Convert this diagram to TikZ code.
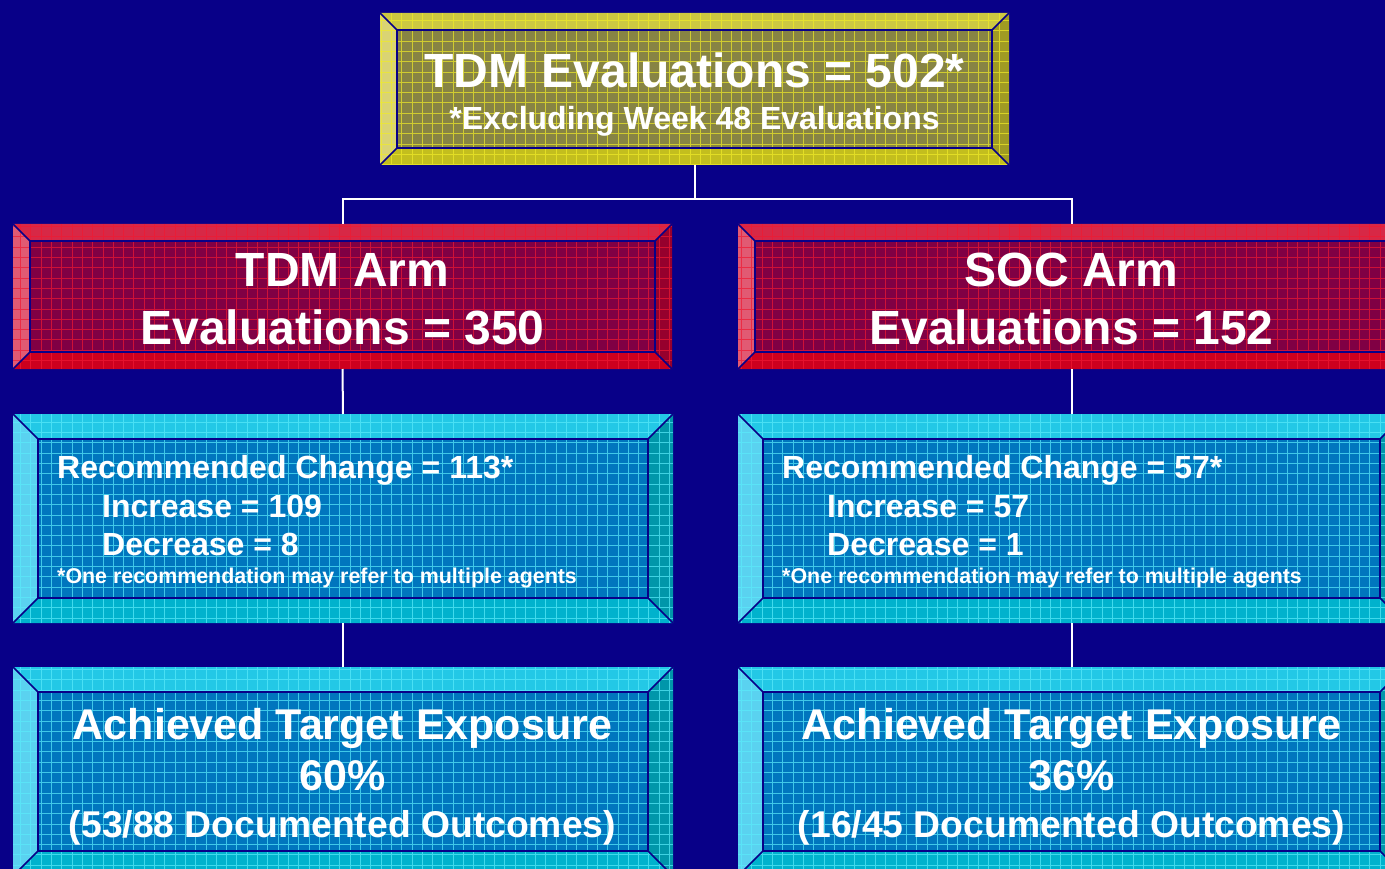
\documentclass[tikz,border=0pt]{standalone}
\usepackage{fontspec}
\setmainfont{Liberation Sans}
\usetikzlibrary{calc,positioning}

\definecolor{slidebg}{RGB}{8,0,136}
% yellow panel
\definecolor{yltop}{RGB}{205,200,65}
\definecolor{ylleft}{RGB}{218,212,115}
\definecolor{ylbottom}{RGB}{195,190,30}
\definecolor{ylright}{RGB}{160,155,35}
\definecolor{ylface}{RGB}{135,132,68}
\definecolor{ylgrid}{RGB}{240,235,40}
% red panels
\definecolor{rdtop}{RGB}{215,40,70}
\definecolor{rdleft}{RGB}{225,90,115}
\definecolor{rdbottom}{RGB}{205,0,30}
\definecolor{rdright}{RGB}{150,0,45}
\definecolor{rdface}{RGB}{128,0,68}
\definecolor{rdgrid}{RGB}{240,25,50}
% cyan panels
\definecolor{cytop}{RGB}{35,200,230}
\definecolor{cyleft}{RGB}{90,210,240}
\definecolor{cybottom}{RGB}{0,178,205}
\definecolor{cyright}{RGB}{0,150,170}
\definecolor{cyface}{RGB}{0,118,190}
\definecolor{cygrid}{RGB}{90,235,250}

% bevelled panel: name, x1, y1, x2, y2, bevel, colour set
\newcommand\bevelpanel[7]{%
	\pgfmathsetmacro\pix{#2+#6}\pgfmathsetmacro\piy{#3+#6}%
	\pgfmathsetmacro\pjx{#4-#6}\pgfmathsetmacro\pjy{#5-#6}%
	\node[panelnode,minimum width={(#4-#2)*1pt},minimum height={(#5-#3)*1pt}] (#1) at ({(#2+#4)/2},{(#3+#5)/2}) {};
	\begin{scope}
		\clip (#2,#3) rectangle (#4,#5);
		\fill[#7face] (\pix,\piy) rectangle (\pjx,\pjy);
		\fill[#7top] (#2,#3) -- (#4,#3) -- (\pjx,\piy) -- (\pix,\piy) -- cycle;
		\fill[#7right] (#4,#3) -- (#4,#5) -- (\pjx,\pjy) -- (\pjx,\piy) -- cycle;
		\fill[#7bottom] (#4,#5) -- (#2,#5) -- (\pix,\pjy) -- (\pjx,\pjy) -- cycle;
		\fill[#7left] (#2,#5) -- (#2,#3) -- (\pix,\piy) -- (\pix,\pjy) -- cycle;
		\draw[#7grid,gridline] (#2,#5) grid (#4,#3);
		\draw[edge] (\pix,\piy) rectangle (\pjx,\pjy)
			(#2,#3) -- (\pix,\piy) (#4,#3) -- (\pjx,\piy)
			(#4,#5) -- (\pjx,\pjy) (#2,#5) -- (\pix,\pjy);
	\end{scope}}

\begin{document}
\begin{tikzpicture}[
		x=1pt, y=-1pt,
		panelnode/.style={inner sep=0pt,outer sep=0pt},
		gridline/.style={step=10.3pt,line width=1pt,opacity=.7},
		edge/.style={draw=slidebg,line width=1.6pt},
		link/.style={draw=white,line width=2pt},
		txt/.style={text=white,inner sep=0pt,anchor=base},
		hugetxt/.style={txt,font=\fontsize{48}{56}\selectfont\bfseries},
		notetxt/.style={txt,font=\fontsize{32}{38}\selectfont\bfseries},
		listtxt/.style={txt,anchor=base west,font=\fontsize{32}{38}\selectfont\bfseries},
		smalltxt/.style={txt,anchor=base west,font=\fontsize{21.4}{25}\selectfont\bfseries},
		bigtxt/.style={txt,font=\fontsize{43}{50}\selectfont\bfseries},
		midtxt/.style={txt,font=\fontsize{37.3}{44}\selectfont\bfseries}
	]
	
	\fill[slidebg] (0,0) rectangle (1385,869);
	\clip (0,0) rectangle (1385,869);
	
	% panels
	\bevelpanel{total}{380}{13}{1009}{165}{17}{yl}
	\bevelpanel{tdm}{13}{224}{672}{369}{17}{rd}
	\bevelpanel{soc}{738}{224}{1405}{369}{17}{rd}
	\bevelpanel{tdmchg}{13}{414}{673}{623}{25}{cy}
	\bevelpanel{socchg}{738}{414}{1405}{623}{25}{cy}
	\bevelpanel{tdmexp}{13}{667}{673}{876}{25}{cy}
	\bevelpanel{socexp}{738}{667}{1405}{876}{25}{cy}
	
	% connectors
	\draw[link] (total.south) -- ++(0,34) -| (tdm.north);
	\draw[link] (total.south) -- ++(0,34) -| (soc.north);
	\draw[link] (tdm.south) -- (tdmchg.north);
	\draw[link] (soc.south) -- (socchg.north);
	\draw[link] (tdmchg.south) -- (tdmexp.north);
	\draw[link] (socchg.south) -- (socexp.north);
	
	% texts
	\node[hugetxt] (total-title) at (694.5,88) {TDM Evaluations = 502*};
	\node[notetxt] (total-note) at (694.5,130) {*Excluding Week 48 Evaluations};
	
	\node[hugetxt] (tdm-arm) at (342.5,287) {TDM Arm};
	\node[hugetxt] (tdm-evals) at (342.5,344) {Evaluations = 350};
	\node[hugetxt] (soc-arm) at (1071.5,287) {SOC Arm};
	\node[hugetxt] (soc-evals) at (1071.5,344) {Evaluations = 152};
	
	\node[listtxt] (tdm-rec) at (57,478) {Recommended Change = 113*};
	\node[listtxt] (tdm-inc) at (102,517) {Increase = 109};
	\node[listtxt] (tdm-dec) at (102,555) {Decrease = 8};
	\node[smalltxt] (tdm-foot) at (57,583) {*One recommendation may refer to multiple agents};
	\node[listtxt] (soc-rec) at (782,478) {Recommended Change = 57*};
	\node[listtxt] (soc-inc) at (827,517) {Increase = 57};
	\node[listtxt] (soc-dec) at (827,555) {Decrease = 1};
	\node[smalltxt] (soc-foot) at (782,583) {*One recommendation may refer to multiple agents};
	
	\node[bigtxt] (tdm-ach) at (342.5,739) {Achieved Target Exposure};
	\node[bigtxt] (tdm-pct) at (342.5,790) {60\%};
	\node[midtxt] (tdm-out) at (342.5,837) {(53/88 Documented Outcomes)};
	\node[bigtxt] (soc-ach) at (1071.5,739) {Achieved Target Exposure};
	\node[bigtxt] (soc-pct) at (1071.5,790) {36\%};
	\node[midtxt] (soc-out) at (1071.5,837) {(16/45 Documented Outcomes)};
	
\end{tikzpicture}
\end{document}
